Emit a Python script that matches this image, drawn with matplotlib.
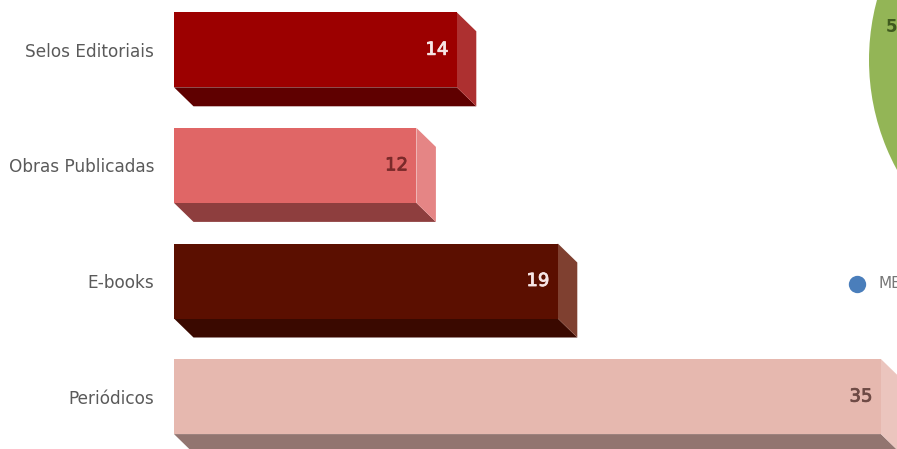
import matplotlib
matplotlib.use("Agg")
import matplotlib.pyplot as plt
import matplotlib.patheffects as pe
from matplotlib.patches import Polygon

categories = ["Selos Editoriais", "Obras Publicadas", "E-books", "Periódicos"]
values = [14, 12, 19, 35]
front_colors = ["#9C0000", "#E06666", "#5B0F00", "#E6B8AF"]
bottom_colors = ["#5F0000", "#8E3E3E", "#3A0900", "#927570"]
side_colors = ["#AD3030", "#E58585", "#7F4030", "#EBC5BE"]
label_colors = ["#F7E6E6", "#7A2A2A", "#F7E6E6", "#6E4A45"]
pie_values = [100]
pie_colors = ["#93B556"]
pie_label = "5"
legend_label = "ME"
legend_color = "#4A7EBB"

W, H = 897, 449
plt.rcParams["font.family"] = ["DejaVu Sans"]
fig = plt.figure(figsize=(W / 100, H / 100), dpi=100, facecolor="white")

# Bars axes: x in value units, y in category positions
PX_PER_UNIT = 20.2
PX_PER_CAT = 115.6
Y0 = 49.8
ax = fig.add_axes([0, 0, 1, 1])
ax.set_xlim(-174 / PX_PER_UNIT, (W - 174) / PX_PER_UNIT)
ax.set_ylim((H - Y0) / PX_PER_CAT, -Y0 / PX_PER_CAT)
ax.axis("off")

bar_h = 75 / PX_PER_CAT
dx = 19.5 / PX_PER_UNIT
dy = 19 / PX_PER_CAT

for i, (cat, v) in enumerate(zip(categories, values)):
    top, bot = i - bar_h / 2, i + bar_h / 2
    ax.add_patch(Polygon([(0, bot), (v, bot), (v + dx, bot + dy), (dx, bot + dy)],
                         closed=True, fc=bottom_colors[i], ec="none"))
    ax.add_patch(Polygon([(v, top), (v + dx, top + dy), (v + dx, bot + dy), (v, bot)],
                         closed=True, fc=side_colors[i], ec="none"))
    ax.barh(i, v, height=bar_h, color=front_colors[i], linewidth=0)
    t = ax.text(v - 8.5 / PX_PER_UNIT, i, str(v), ha="right", va="center",
                fontsize=13, color=label_colors[i])
    t.set_path_effects([pe.withStroke(linewidth=0.6, foreground=label_colors[i])])
    ax.text(-20 / PX_PER_UNIT, i + 2 / PX_PER_CAT, cat, ha="right", va="center",
            fontsize=12.2, color="#5A5A5A")

# Overlay in pixel coordinates for the pie and legend cut by the right edge
ov = fig.add_axes([0, 0, 1, 1], facecolor="none")
ov.pie(pie_values, colors=pie_colors, center=(1099, 60), radius=230, frame=True)
ov.set_aspect("auto")
ov.set_xlim(0, W)
ov.set_ylim(H, 0)
ov.axis("off")
ov.text(886, 27, pie_label, ha="left", va="center", fontsize=12,
        fontweight="bold", color="#3F5A1E")
ov.plot([857], [284], "o", ms=12.5, color=legend_color, mew=0)
ov.text(878, 284, legend_label, ha="left", va="center", fontsize=11, color="#777777")

fig.savefig("out.png", dpi=100)
